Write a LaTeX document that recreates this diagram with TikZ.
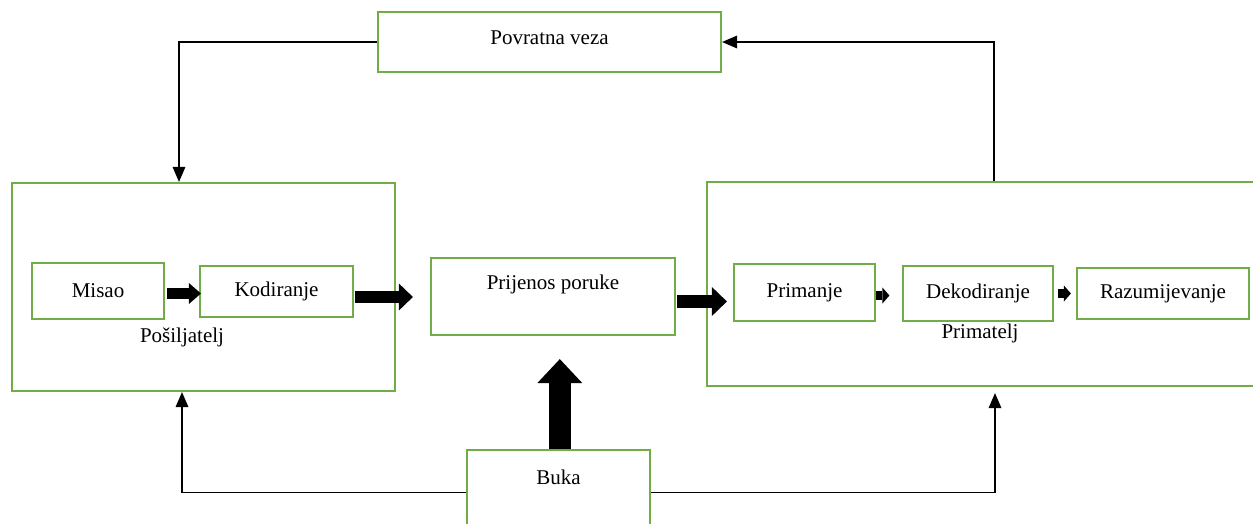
\documentclass[tikz,border=0pt]{standalone}
\usepackage{fontspec}
\setmainfont{Liberation Serif}
\usetikzlibrary{arrows.meta}
\definecolor{boxgreen}{HTML}{70AD47}
\begin{document}
\begin{tikzpicture}[x=1pt,y=-1pt,
  box/.style={draw=boxgreen, line width=2.2pt, inner sep=0pt, font=\fontsize{21}{25}\selectfont},
  lbl/.style={inner sep=0pt, font=\fontsize{21}{25}\selectfont},
  thinarrow/.style={line width=1.2pt, -{Triangle[length=15pt,width=13pt,line width=0pt]}},
  fatarrow/.style={draw=black}]
\useasboundingbox (0,0) rectangle (1253,523);
\clip (0,0) rectangle (1253,523);
% boxes
\node[box, minimum width=343pt, minimum height=60pt, text height=32pt, text depth=28pt] (pov) at (549.5,42) {Povratna veza};
\node[box, minimum width=383pt, minimum height=208pt] (pos) at (203.5,287) {};
\node[lbl] (posl) at (182,337) {Pošiljatelj};
\node[box, minimum width=132pt, minimum height=56pt] (misao) at (98,291) {Misao};
\node[box, minimum width=153pt, minimum height=51pt] (kod) at (276.5,291.5) {Kodiranje};
\node[box, minimum width=244pt, minimum height=77pt, text height=31pt, text depth=46pt] (prij) at (553,296.5) {Prijenos poruke};
\node[box, minimum width=558pt, minimum height=204pt] (prim) at (986,284) {};
\node[lbl] (priml) at (980,333) {Primatelj};
\node[box, minimum width=141pt, minimum height=57pt] (priman) at (804.5,292.5) {Primanje};
\node[box, minimum width=150pt, minimum height=55pt] (dek) at (978,293.5) {Dekodiranje};
\node[box, minimum width=172pt, minimum height=51pt] (raz) at (1163,293.5) {Razumijevanje};
\node[box, minimum width=183pt, minimum height=85pt, text height=34pt, text depth=51pt] (buka) at (558.5,492.5) {Buka};
% thin connectors
\draw[thinarrow] (pov.west) -| ([xshift=-24.5pt]pos.north);
\draw[thinarrow] ([xshift=8pt]prim.north) |- (pov.east);
\draw[thinarrow] (buka.west) -| ([xshift=-21.5pt]pos.south);
\draw[thinarrow] (buka.east) -| ([xshift=9pt,yshift=-6pt]prim.south);
% block arrows
\draw[fatarrow, line width=11pt, -{Triangle[length=12pt,width=21pt,line width=0pt]}, shorten <=2pt, shorten >=-2pt]
  ([yshift=-2.5pt]misao.east) -- ([yshift=-2.5pt]misao.east -| kod.west);
\draw[fatarrow, line width=12.5pt, -{Triangle[length=14pt,width=27pt,line width=0pt]}, shorten <=1pt, shorten >=17pt]
  ([yshift=-5.5pt]kod.east) -- ([yshift=-5.5pt]kod.east -| prij.west);
\draw[fatarrow, line width=13pt, -{Triangle[length=15pt,width=29pt,line width=0pt]}, shorten <=1pt, shorten >=6pt]
  ([yshift=-5pt]prij.east) -- ([yshift=-5pt]prij.east -| priman.west);
\draw[fatarrow, line width=9.5pt, -{Triangle[length=7pt,width=16pt,line width=0pt]}, shorten <=0pt, shorten >=12.5pt]
  ([yshift=-3pt]priman.east) -- ([yshift=-3pt]priman.east -| dek.west);
\draw[fatarrow, line width=9pt, -{Triangle[length=7pt,width=16pt,line width=0pt]}, shorten <=4pt, shorten >=5pt]
  (dek.east) -- (dek.east -| raz.west);
\draw[fatarrow, line width=22.4pt, -{Triangle[length=24pt,width=45pt,line width=0pt]}, shorten >=23pt]
  ([xshift=1.3pt]buka.north) -- ([xshift=1.3pt]buka.north |- prij.south);
\end{tikzpicture}
\end{document}
